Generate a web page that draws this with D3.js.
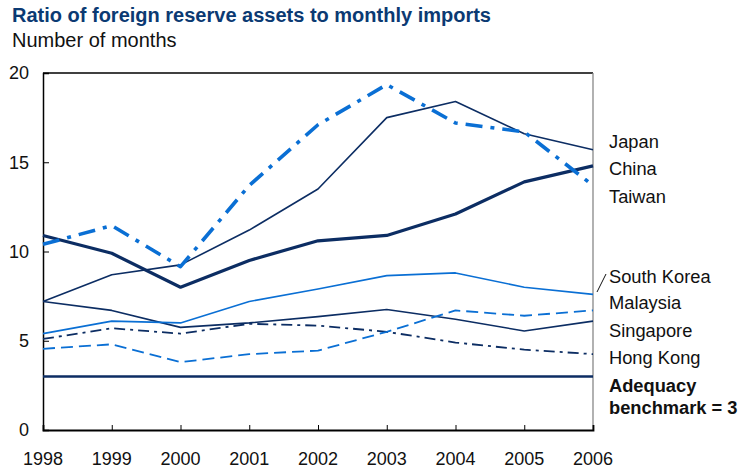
<!DOCTYPE html>
<html><head><meta charset="utf-8">
<script src="https://cdn.jsdelivr.net/npm/d3@7"></script>
<style>body{margin:0;background:#fff}svg{display:block;font-family:"Liberation Sans",Arial,sans-serif}</style>
</head><body>
<svg id="c" width="744" height="471"></svg>
<script>
const years = [1998,1999,2000,2001,2002,2003,2004,2005,2006];
const japan = [7.2, 8.7, 9.25, 11.2, 13.5, 17.5, 18.4, 16.6, 15.7];
const china = [10.9, 9.9, 8.0, 9.5, 10.6, 10.9, 12.1, 13.9, 14.8];
const taiwan = [10.4, 11.45, 9.15, 13.7, 17.1, 19.35, 17.2, 16.7, 13.7];
const southKorea = [5.4, 6.1, 6.0, 7.2, 7.9, 8.65, 8.8, 8.0, 7.6];
const malaysia = [4.55, 4.8, 3.8, 4.25, 4.45, 5.5, 6.7, 6.4, 6.7];
const singapore = [7.2, 6.7, 5.75, 6.0, 6.35, 6.75, 6.2, 5.55, 6.1];
const hongKong = [5.1, 5.7, 5.4, 5.95, 5.85, 5.5, 4.9, 4.5, 4.25];
const benchmark = 3;
const yTicks = [0,5,10,15,20];
const labels = ["Japan","China","Taiwan","South Korea","Malaysia","Singapore","Hong Kong"];

const navy = "#0c2d63", blue = "#0a6fd4";
const svg = d3.select("#c");
const L=43, R=593, T=73, B=430;
const x = d3.scaleLinear().domain([1998,2006]).range([L,R]);
const y = d3.scaleLinear().domain([0,20]).range([B,T]);

svg.append("text").attr("x",12).attr("y",22).attr("font-size",20).attr("font-weight","bold").attr("fill","#0b3a73").text("Ratio of foreign reserve assets to monthly imports");
svg.append("text").attr("x",12).attr("y",47).attr("font-size",20).attr("fill","#111").text("Number of months");

// frame
svg.append("line").attr("x1",L).attr("x2",R).attr("y1",T).attr("y2",T).attr("stroke","#000").attr("stroke-width",1.3);
svg.append("line").attr("x1",R).attr("x2",R).attr("y1",T).attr("y2",B).attr("stroke","#888").attr("stroke-width",1.3);

// axes
const yAx = svg.append("g").attr("transform",`translate(${L},0)`)
  .call(d3.axisRight(y).tickValues(yTicks).tickSize(6).tickFormat(""));
yAx.select(".domain").attr("stroke","#000").attr("stroke-width",1.5);
svg.append("g").selectAll("text").data(yTicks).join("text")
  .attr("x",29).attr("y",d=>y(d)).attr("dy","0.36em").attr("text-anchor","end")
  .attr("font-size",18).attr("fill","#111").text(d=>d);
const xAx = svg.append("g").attr("transform",`translate(0,${B})`)
  .call(d3.axisTop(x).tickValues(years).tickSize(5).tickFormat(""));
xAx.select(".domain").attr("stroke","#000").attr("stroke-width",1.8);
svg.append("g").selectAll("text").data(years).join("text")
  .attr("x",d=>x(d)).attr("y",465).attr("text-anchor","middle")
  .attr("font-size",18).attr("fill","#111").text(d=>d);

const line = d3.line().x((d,i)=>x(years[i])).y(d=>y(d));
const series = [
  {v:singapore, c:navy, w:1.6, dash:null},
  {v:hongKong, c:navy, w:1.8, dash:"11,5,3,5"},
  {v:malaysia, c:blue, w:1.8, dash:"12,6"},
  {v:southKorea, c:blue, w:1.6, dash:null},
  {v:japan, c:navy, w:1.6, dash:null},
  {v:china, c:navy, w:3.2, dash:null},
  {v:taiwan, c:blue, w:3.6, dash:"17,8,4,8"}
];
svg.append("line").attr("x1",L).attr("x2",R).attr("y1",y(benchmark)).attr("y2",y(benchmark)).attr("stroke",navy).attr("stroke-width",2.6);
svg.append("g").selectAll("path").data(series).join("path")
  .attr("d",d=>line(d.v)).attr("fill","none").attr("stroke",d=>d.c)
  .attr("stroke-width",d=>d.w).attr("stroke-dasharray",d=>d.dash).attr("stroke-linejoin","round");

const labY = [141,168,196,276,302,330,357];
svg.append("g").selectAll("text").data(labels).join("text")
  .attr("x",609).attr("y",(d,i)=>labY[i]).attr("dy","0.36em")
  .attr("font-size",18.3).attr("fill","#111").text(d=>d);
svg.append("line").attr("x1",597).attr("y1",292).attr("x2",606).attr("y2",274).attr("stroke","#111").attr("stroke-width",1);
svg.append("text").attr("x",609).attr("y",385).attr("dy","0.36em").attr("font-size",18.3).attr("font-weight","bold").attr("fill","#111").text("Adequacy");
svg.append("text").attr("x",609).attr("y",407).attr("dy","0.36em").attr("font-size",18.3).attr("font-weight","bold").attr("fill","#111").text("benchmark = 3");
</script>
</body></html>
